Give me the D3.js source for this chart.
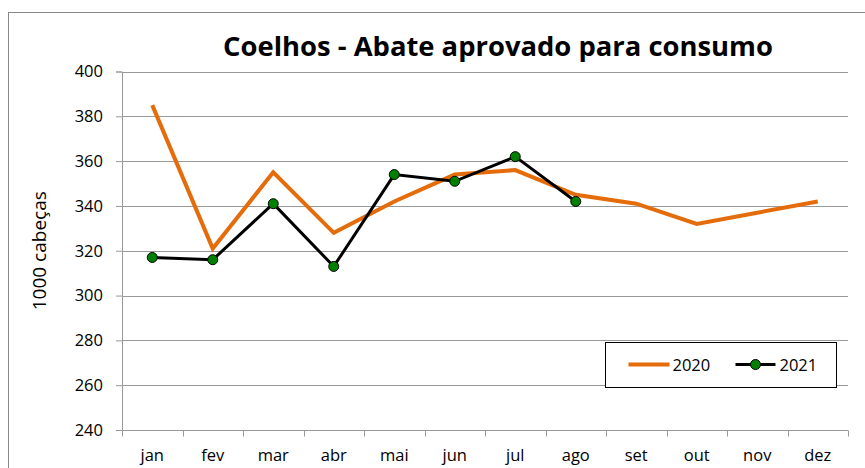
<!DOCTYPE html>
<html>
<head>
<meta charset="utf-8">
<script src="https://cdn.jsdelivr.net/npm/d3@7"></script>
<style>
  body { margin: 0; background: #fff; }
  svg { display: block; font-family: 'Open Sans', sans-serif; }
</style>
</head>
<body>
<div id="chart"></div>
<script>
const months = ['jan', 'fev', 'mar', 'abr', 'mai', 'jun', 'jul', 'ago', 'set', 'out', 'nov', 'dez']
const values2020 = [385, 321, 355, 328, 342, 354, 356, 345, 341, 332, 337, 342]
const values2021 = [317, 316, 341, 313, 354, 351, 362, 342]
const yTicks = [240, 260, 280, 300, 320, 340, 360, 380, 400]

const width = 865
const height = 468
const margin = { top: 71.5, right: 17, bottom: 38, left: 122 }
const fontSize = 16.5

const svg = d3.select('#chart')
  .append('svg')
  .attr('width', width)
  .attr('height', height)

// moldura do gráfico
svg.append('rect')
  .attr('x', 8.5)
  .attr('y', 12.5)
  .attr('width', 880)
  .attr('height', 480)
  .attr('fill', 'none')
  .attr('stroke', '#888')

const x = d3.scaleBand()
  .domain(months)
  .range([margin.left, width - margin.right])

const y = d3.scaleLinear()
  .domain([240, 400])
  .range([height - margin.bottom, margin.top])

// linhas de grade
svg.append('g')
  .selectAll('line')
  .data(yTicks.slice(1))
  .enter()
  .append('line')
  .attr('x1', margin.left)
  .attr('x2', width - margin.right)
  .attr('y1', d => Math.round(y(d)) + 0.5)
  .attr('y2', d => Math.round(y(d)) + 0.5)
  .attr('stroke', '#999')

const yAxis = d3.axisLeft(y).tickValues(yTicks).tickSize(6).tickPadding(13)
const yAxisG = svg.append('g')
  .attr('transform', `translate(${margin.left},0)`)
  .call(yAxis)
yAxisG.attr('font-size', fontSize).attr('font-family', null)
yAxisG.select('.domain').attr('stroke', '#999')
yAxisG.selectAll('.tick line').attr('stroke', '#999')
yAxisG.selectAll('.tick text').attr('fill', '#000')

// eixo x: marcas entre as categorias
const xAxisG = svg.append('g')
  .attr('transform', `translate(0,${Math.round(y(240)) + 0.5})`)
xAxisG.append('line')
  .attr('x1', margin.left)
  .attr('x2', width - margin.right)
  .attr('stroke', '#999')
xAxisG.selectAll('.tk')
  .data(months.concat(['end']))
  .enter()
  .append('line')
  .attr('class', 'tk')
  .attr('x1', (d, i) => Math.round(margin.left + x.step() * i) + 0.5)
  .attr('x2', (d, i) => Math.round(margin.left + x.step() * i) + 0.5)
  .attr('y1', 0)
  .attr('y2', 6)
  .attr('stroke', '#999')
xAxisG.selectAll('text')
  .data(months)
  .enter()
  .append('text')
  .text(d => d)
  .attr('x', d => x(d) + x.bandwidth() / 2)
  .attr('y', 30)
  .attr('text-anchor', 'middle')
  .attr('font-size', fontSize)

// título
svg.append('text')
  .text('Coelhos - Abate aprovado para consumo')
  .attr('x', 498)
  .attr('y', 56)
  .attr('text-anchor', 'middle')
  .attr('font-size', 27.4)
  .attr('font-weight', 'bold')

// rótulo do eixo y
svg.append('text')
  .text('1000 cabeças')
  .attr('transform', `translate(46,${(y(240) + y(400)) / 2}) rotate(-90)`)
  .attr('text-anchor', 'middle')
  .attr('font-size', 19)

const line = d3.line()
  .x((d, i) => x(months[i]) + x.bandwidth() / 2)
  .y(d => y(d))

svg.append('path')
  .datum(values2020)
  .attr('d', line)
  .attr('fill', 'none')
  .attr('stroke', '#E46C0A')
  .attr('stroke-width', 4)

svg.append('path')
  .datum(values2021)
  .attr('d', line)
  .attr('fill', 'none')
  .attr('stroke', '#000')
  .attr('stroke-width', 3)

svg.append('g')
  .selectAll('circle')
  .data(values2021)
  .enter()
  .append('circle')
  .attr('cx', (d, i) => x(months[i]) + x.bandwidth() / 2)
  .attr('cy', d => y(d))
  .attr('r', 5)
  .attr('fill', '#008000')
  .attr('stroke', '#000')
  .attr('stroke-width', 1)

// legenda
const legend = svg.append('g').attr('transform', 'translate(605.5,342.5)')
legend.append('rect')
  .attr('width', 231)
  .attr('height', 45)
  .attr('fill', '#fff')
  .attr('stroke', '#000')
legend.append('line')
  .attr('x1', 23).attr('x2', 64)
  .attr('y1', 22).attr('y2', 22)
  .attr('stroke', '#E46C0A')
  .attr('stroke-width', 4)
legend.append('text')
  .text('2020')
  .attr('x', 67)
  .attr('y', 28)
  .attr('font-size', fontSize)
legend.append('line')
  .attr('x1', 130).attr('x2', 170)
  .attr('y1', 22).attr('y2', 22)
  .attr('stroke', '#000')
  .attr('stroke-width', 3)
legend.append('circle')
  .attr('cx', 150)
  .attr('cy', 22)
  .attr('r', 5)
  .attr('fill', '#008000')
  .attr('stroke', '#000')
legend.append('text')
  .text('2021')
  .attr('x', 174)
  .attr('y', 28)
  .attr('font-size', fontSize)
</script>
</body>
</html>
